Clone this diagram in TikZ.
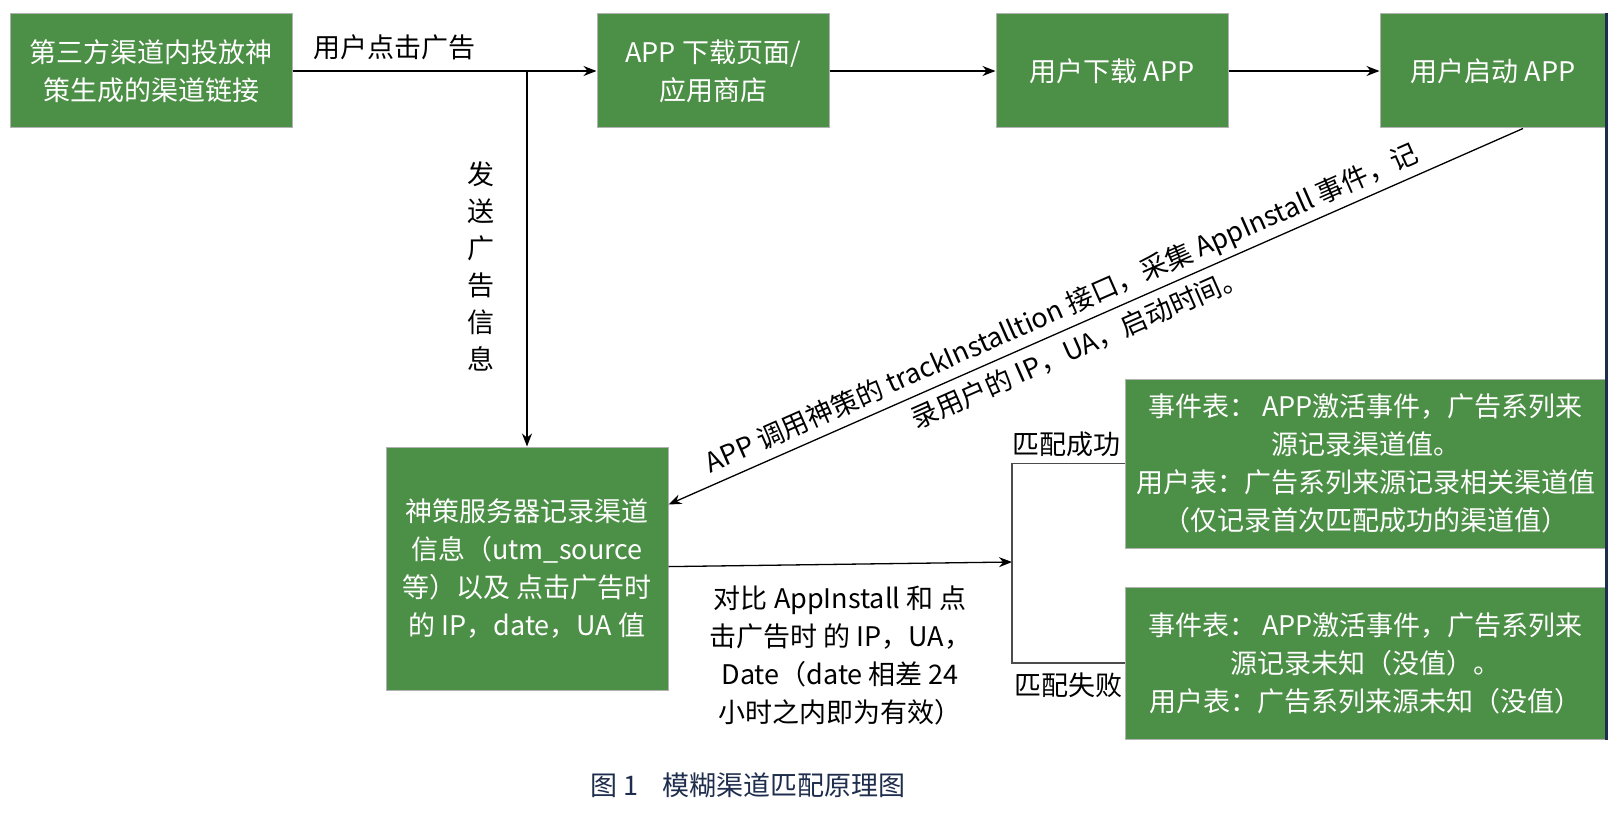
\documentclass[tikz,border=0pt]{standalone}
\usepackage{fontspec}
\setmainfont{Noto Sans CJK SC}
\usepackage{xcolor}
\usepackage{tikz}
\usetikzlibrary{positioning, arrows.meta}

\definecolor{boxgreen}{HTML}{4C8F46}
\definecolor{captionblue}{HTML}{1F2D4D}

\begin{document}
\begin{tikzpicture}[
      x=1pt, y=-1pt,
      on grid,
      >={Stealth[length=13pt, width=10pt]},
      every node/.style={font=\fontsize{27}{38}\selectfont},
      flowbox/.style={draw=gray!60, line width=1pt, fill=boxgreen, text=white,
        align=center, inner sep=2pt, minimum height=114pt},
      tag/.style={inner sep=0pt, align=center},
      link/.style={line width=1.3pt},
      bracket/.style={draw=black!70, line width=1.3pt},
    ]
    \useasboundingbox (0,0) rectangle (1614,824);

    \node[flowbox, minimum width=282pt]                   (src)    at (151,71) {第三方渠道内投放神\\策生成的渠道链接};
    \node[flowbox, minimum width=232pt, right=562pt of src]   (store)  {APP 下载页面/\\应用商店};
    \node[flowbox, minimum width=232pt, right=399pt of store] (down)   {用户下载 APP};
    \node[flowbox, minimum width=226pt, right=381pt of down]  (launch) {用户启动 APP};

    \node[flowbox, minimum width=282pt, minimum height=243pt] (server) at (527,568.5)
      {神策服务器记录渠道\\信息（utm\_source\\等）以及 点击广告时\\的 IP，date，UA 值};
    \node[flowbox, minimum width=481pt, minimum height=169pt] (hit) at (1365.5,463.5)
      {事件表： APP激活事件，广告系列来\\源记录渠道值。\\用户表：广告系列来源记录相关渠道值\\（仅记录首次匹配成功的渠道值）};
    \node[flowbox, minimum width=481pt, minimum height=152pt, below=199.5pt of hit] (miss)
      {事件表： APP激活事件，广告系列来\\源记录未知（没值）。\\用户表：广告系列来源未知（没值）};

    \coordinate (fork) at (527,71);
    \coordinate (ok)   at (1012,463.5);
    \coordinate (fail) at (1012,663);
    \coordinate (join) at (1012,562);

    \draw[link, ->] (src) -- node[tag, above=10pt, pos=0.334] (clicklbl) {用户点击广告} (store);
    \draw[link, ->] (store) -- (down);
    \draw[link, ->] (down) -- (launch);
    \draw[link, ->] (fork) -- node[tag, left=32pt, pos=0.52, font=\fontsize{27}{37}\selectfont] (sendlbl)
      {发\\送\\广\\告\\信\\息} (server);
    \draw[link, ->] ([xshift=30pt]launch.south) -- node[tag, sloped, pos=0.53, font=\fontsize{27}{43}\selectfont] (calllbl)
      {APP 调用神策的 trackInstalltion 接口，采集 AppInstall 事件，记\\录用户的 IP，UA，启动时间。}
      ([yshift=64pt]server.east);
    \draw[link, ->] (server) -- node[tag, below=21pt, midway] (cmplbl)
      {对比 AppInstall 和 点\\击广告时 的 IP，UA，\\Date（date 相差 24\\小时之内即为有效）} (join);

    \draw[bracket] (hit.west) -- (ok) -- (fail) -- (miss.west);
    \node[tag, above right=6pt and 0pt of ok]    (oklbl)   {匹配成功};
    \node[tag, below right=10pt and 2pt of fail] (faillbl) {匹配失败};

    \draw[line width=3pt, captionblue] (launch.north east) -- (miss.south east);

    \node[text=captionblue] (caption) at (748,785) {图 1\hspace{0.9em}模糊渠道匹配原理图};
  \end{tikzpicture}
\end{document}
